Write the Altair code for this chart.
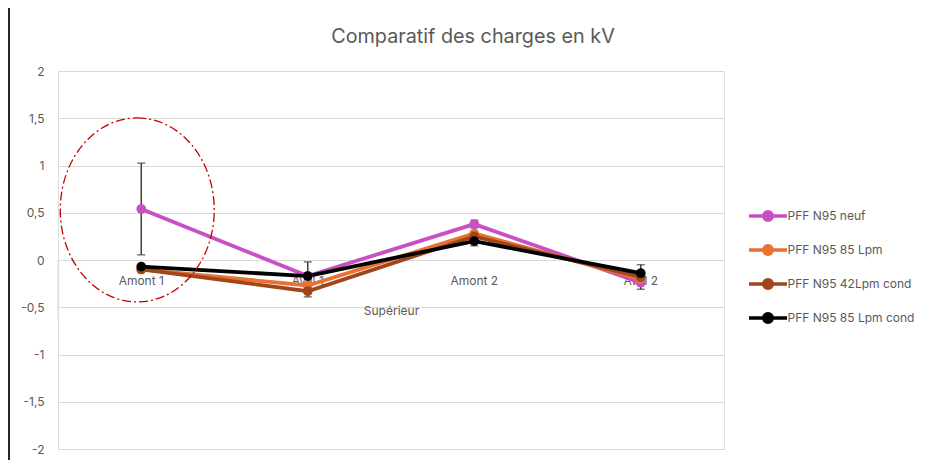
import altair as alt
import pandas as pd

categories = ["Amont 1", "Aval 1", "Amont 2", "Aval 2"]
series = ["PFF N95 neuf", "PFF N95 85 Lpm", "PFF N95 42Lpm cond", "PFF N95 85 Lpm cond"]
colors = ["#C94FC4", "#E97132", "#A0461A", "#000000"]

v_neuf = [0.54, -0.17, 0.38, -0.24]
v_85 = [-0.10, -0.27, 0.28, -0.20]
v_42c = [-0.10, -0.33, 0.25, -0.18]
v_85c = [-0.07, -0.17, 0.20, -0.14]

e_neuf = [0.485, 0.0, 0.04, 0.07]
e_85 = [0.0, 0.0, 0.0, 0.0]
e_42c = [0.0, 0.06, 0.0, 0.0]
e_85c = [0.0, 0.15, 0.05, 0.09]

group_label = "Supérieur"
title_text = "Comparatif des charges en kV"
y_ticks = [-2, -1.5, -1, -0.5, 0, 0.5, 1, 1.5, 2]

vals = [v_neuf, v_85, v_42c, v_85c]
errs = [e_neuf, e_85, e_42c, e_85c]
rows = []
for s, vv, ee in zip(series, vals, errs):
    for c, v, e in zip(categories, vv, ee):
        rows.append({"cat": c, "serie": s, "v": v, "e": e, "lo": v - e, "hi": v + e})
df = pd.DataFrame(rows)
df_err = df[df["e"] > 0]

FONT = "Inter"
GREY = "#595959"

xs = alt.X("cat:N", sort=categories,
           scale=alt.Scale(domain=categories, paddingInner=0, paddingOuter=0),
           axis=alt.Axis(title=group_label, orient="bottom", offset=-189, ticks=False,
                         domainColor="#d9d9d9", domainWidth=1, labelAngle=0,
                         labelPadding=15, labelFontSize=12, labelColor=GREY, labelFont=FONT,
                         titleFont=FONT, titleFontSize=12, titleColor=GREY,
                         titleFontWeight="normal", titlePadding=19, grid=False))
ys = alt.Y("v:Q", scale=alt.Scale(domain=[-2, 2], nice=False, zero=False),
           axis=alt.Axis(values=y_ticks, title=None, domain=False, ticks=False,
                         grid=True, gridColor="#d9d9d9", gridWidth=1,
                         labelExpr="replace(toString(datum.value), '.', ',')",
                         labelPadding=14, labelFontSize=12, labelColor=GREY, labelFont=FONT))

legend_path = ("M -2 0 L 2 0 M -0.45 0 A 0.45 0.45 0 1 1 0.45 0 "
               "A 0.45 0.45 0 1 1 -0.45 0")
color = alt.Color("serie:N", sort=series,
                  scale=alt.Scale(domain=series, range=colors),
                  legend=alt.Legend(title=None, orient="none", legendX=698.5, legendY=133.5,
                                    symbolType=legend_path, symbolSize=361,
                                    symbolStrokeWidth=3.5, labelOffset=8, rowPadding=11,
                                    padding=0, labelFontSize=12, labelColor=GREY,
                                    labelFont=FONT))

base = alt.Chart(df)
# keep draw order: pink, orange, brown, black
lines = alt.layer(*[
    base.transform_filter(alt.datum.serie == s).mark_line(strokeWidth=3.8).encode(
        x=xs, y=ys, color=color)
    for s in series
])
points = alt.layer(*[
    base.transform_filter(alt.datum.serie == s).mark_point(filled=True, size=95, opacity=1).encode(
        x=xs, y=ys, color=alt.Color("serie:N", scale=alt.Scale(domain=series, range=colors),
                                    legend=None))
    for s in series
])

err_base = alt.Chart(df_err)
err_rule = err_base.mark_rule(color="#404040", strokeWidth=1.5).encode(
    x=alt.X("cat:N", sort=categories), y=alt.Y("lo:Q"), y2="hi:Q")
err_cap_lo = err_base.mark_tick(color="#404040", thickness=1.5, size=8).encode(
    x=alt.X("cat:N", sort=categories), y=alt.Y("lo:Q"))
err_cap_hi = err_base.mark_tick(color="#404040", thickness=1.5, size=8).encode(
    x=alt.X("cat:N", sort=categories), y=alt.Y("hi:Q"))

ellipse_path = "M 0 -1 A 0.837 1 0 1 1 0 1 A 0.837 1 0 1 1 0 -1 Z"
ellipse = alt.Chart(pd.DataFrame({"c": ["Amont 1"], "y": [0.53]})).mark_point(
    shape=ellipse_path, size=33856, filled=False, color="#C00000", strokeWidth=1.3,
    strokeDash=[9, 3, 2, 3], opacity=1, xOffset=-4).encode(
    x=alt.X("c:N", sort=categories), y=alt.Y("y:Q"))

bracket = alt.Chart(pd.DataFrame({"a": [0], "b": [-0.62]})).mark_rule(
    color="#d9d9d9", strokeWidth=1).encode(
    x=alt.value(0), y=alt.Y("a:Q"), y2="b:Q")

# chart frame (left edge), as in the screenshot
border = alt.Chart(pd.DataFrame({"a": [0]})).mark_rule(color="#262626", strokeWidth=2).encode(
    x=alt.value(-49), y=alt.value(-63), y2=alt.value(390))

chart = alt.layer(bracket, lines, err_rule, err_cap_lo, err_cap_hi, points, ellipse, border).properties(
    width=666, height=378,
    title=alt.Title(title_text, fontSize=19.8, color=GREY, font=FONT, fontWeight="normal",
                    anchor="middle", dx=82, baseline="alphabetic", offset=-56),
    padding={"left": 50, "top": 63, "right": 195, "bottom": 11},
    autosize=alt.AutoSizeParams(type="none"),
).configure_view(stroke=None).configure(background="white")

chart.save("out.html", embed_options={"renderer": "svg", "actions": False})
